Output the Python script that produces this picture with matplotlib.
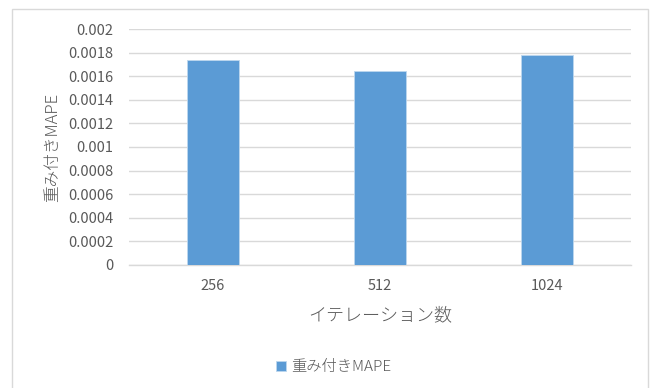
import numpy as np
import matplotlib.pyplot as plt
from matplotlib.patches import Rectangle

plt.rcParams['font.family'] = ['Noto Sans CJK JP', 'DejaVu Sans']

# ---- DATA ---- #
iterations = ['256', '512', '1024']
mape = [0.001742, 0.001646, 0.001784]
yticks = np.arange(0, 0.0021, 0.0002)
ytick_labels = ['0', '0.0002', '0.0004', '0.0006', '0.0008', '0.001',
                '0.0012', '0.0014', '0.0016', '0.0018', '0.002']

series_name = '重み付きMAPE'
xlbl = 'イテレーション数'
ylbl = '重み付きMAPE'

bar_color = '#5B9BD5'
text_color = '#595959'
grid_color = '#D9D9D9'

# ---- FIGURE ---- #
fig = plt.figure(figsize=(6.55, 3.88), dpi=100)
# chart frame
fig.patches.append(Rectangle((12 / 655, -0.05), (648 - 12) / 655, 1.05 - 9 / 388,
                             transform=fig.transFigure, fill=False,
                             edgecolor='#D9D9D9', linewidth=1.0))

ax = fig.add_axes([129 / 655, 1 - 264.7 / 388, (631 - 129) / 655, (264.7 - 29.3) / 388])

x = np.arange(len(iterations))
ax.bar(x, mape, width=0.31, color=bar_color, edgecolor='#BDD7EE',
       linewidth=0.6, label=series_name, zorder=3)

# ---- AXIS ---- #
ax.set_xlim(-0.5, len(iterations) - 0.5)
ax.set_ylim(0, 0.002)
ax.set_yticks(yticks)
ax.set_yticklabels(ytick_labels)
ax.set_xticks(x)
ax.set_xticklabels(iterations)
ax.tick_params(axis='both', length=0, labelsize=10.5, colors=text_color)
ax.tick_params(axis='y', pad=11)
ax.tick_params(axis='x', pad=10)

for s in ['top', 'right', 'left']:
    ax.spines[s].set_visible(False)
ax.spines['bottom'].set_color(grid_color)
ax.spines['bottom'].set_linewidth(1.0)
ax.grid(axis='y', color=grid_color, linewidth=1.0, zorder=0)
ax.set_axisbelow(True)

# ---- LABELS ---- #
ax.set_xlabel(xlbl, fontsize=13, color=text_color, labelpad=10, fontweight='light')
ax.set_ylabel(ylbl, fontsize=12, color=text_color, labelpad=5, fontweight='light')

# ---- LEGEND ---- #
fig.legend(loc='center', bbox_to_anchor=(334 / 655, 1 - 367 / 388), frameon=False,
           prop={'size': 11, 'weight': 'light'}, handlelength=0.65,
           handleheight=0.65, handletextpad=0.35, labelcolor=text_color)

plt.savefig('out.png', dpi=100)
